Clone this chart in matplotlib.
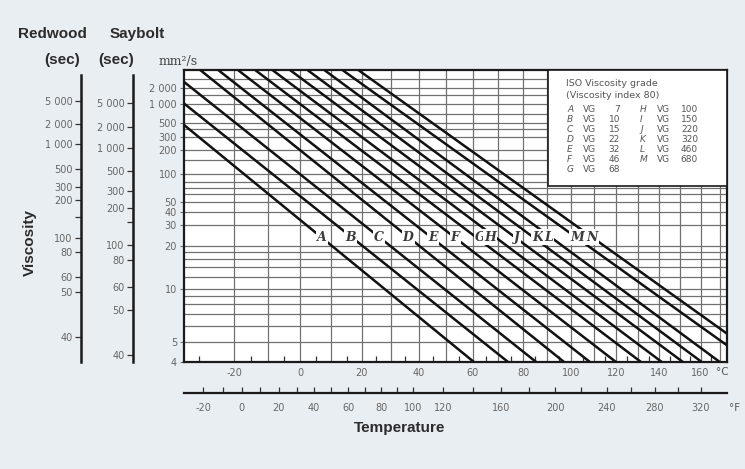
import numpy as np
import matplotlib
matplotlib.use("Agg")
import matplotlib.pyplot as plt
from matplotlib.patches import Rectangle

np.seterr(all="ignore")

# ISO VG lines: start and end points (deg C, mm2/s)
grades = ["A", "B", "C", "D", "E", "F", "G", "H", "J", "K", "L", "M", "N"]
t_start = [-34.2, -34.2, -34.2, -29.7, -24.6, -18.9, -13.8, -8.6, -3.2, 2.3, 7.7, 13.6, 18.9]
v_start = [460, 1040, 2630, 4620, 4620, 4620, 4620, 4620, 4620, 4620, 4620, 4620, 4620]
t_end = [60.5, 73.9, 85.3, 97.0, 108.2, 119.8, 131.3, 141.1, 151.3, 160.6, 169.7, 173.4, 173.4]
v_end = [4, 4, 4, 4, 4, 4, 4, 4, 4, 4, 4, 4.8, 5.5]
# letter labels along the 24 mm2/s level
label_t = [7.0, 16.2, 26.0, 36.2, 45.2, 53.4, 62.9, 66.8, 77.5, 86.1, 90.3, 102.6, 109.1]
label_v = 23.8

# legend table
legend_left = [("A", "7"), ("B", "10"), ("C", "15"), ("D", "22"), ("E", "32"), ("F", "46"), ("G", "68")]
legend_right = [("H", "100"), ("I", "150"), ("J", "220"), ("K", "320"), ("L", "460"), ("M", "680")]

# axes ticks
grid_t = list(range(-20, 171, 10))
minor_t = [-30] + list(range(-15, 170, 10))
label_c = list(range(-20, 161, 20))
grid_v = [5, 6, 7, 8, 9, 10, 12, 14, 16, 18, 20, 30, 40, 50, 60, 70, 80, 100,
          150, 200, 300, 400, 500, 700, 1000, 1500, 2000, 3000]
tick_v = [4, 5, 10, 20, 30, 40, 50, 100, 200, 300, 500, 1000, 2000]
tick_v_lbl = ["4", "5", "10", "20", "30", "40", "50", "100", "200", "300", "500", "1 000", "2 000"]
f_ticks = [-20, -10, 0, 10, 20, 30, 40, 50, 60, 70, 80, 90, 100, 120, 140, 160,
           180, 200, 220, 240, 260, 280, 300, 320]
f_labels = [-20, 0, 20, 40, 60, 80, 100, 120, 160, 200, 240, 280, 320]

# Redwood / Saybolt seconds and the mm2/s they sit at
redwood_s = [5000, 2000, 1000, 500, 300, 200, 150, 100, 80, 60, 50, 40]
redwood_v = [1150, 470, 240, 115, 71, 52, 36, 23.5, 18, 12, 9.5, 5.3]
saybolt_s = [5000, 2000, 1000, 500, 300, 200, 150, 100, 80, 60, 50, 40]
saybolt_v = [1080, 432, 216, 108, 65, 43, 32, 20.6, 15.7, 10.3, 7.4, 4.3]


def t_fwd(t):
    return np.log10(np.asarray(t, float) + 273.15)


def t_inv(u):
    return 10 ** np.asarray(u, float) - 273.15


def f_fwd(f):
    return t_fwd((np.asarray(f, float) - 32) * 5 / 9)


def f_inv(u):
    return t_inv(u) * 9 / 5 + 32


def v_fwd(v):
    return np.log10(np.log10(np.asarray(v, float) + 0.7))


def v_inv(u):
    return 10 ** (10 ** np.asarray(u, float)) - 0.7


W, H = 745, 469
BG = "#e9eef2"
GREY = "#707070"
TXT = "#2b2b2b"
narrow = ["Liberation Sans Narrow", "DejaVu Sans"]


def px(x, y):
    return x / W, 1 - y / H


fig = plt.figure(figsize=(W / 100, H / 100), dpi=100, facecolor=BG)

x0, y0, x1, y1 = 184, 70, 727, 362
ax = fig.add_axes([x0 / W, 1 - y1 / H, (x1 - x0) / W, (y1 - y0) / H])
ax.set_facecolor("white")
ax.set_xscale("function", functions=(t_fwd, t_inv))
ax.set_yscale("function", functions=(v_fwd, v_inv))
ax.set_xlim(-34.2, 173.4)
ax.set_ylim(4, 4620)

for t in grid_t:
    ax.axvline(t, color=GREY, lw=0.9, zorder=1)
for v in grid_v:
    ax.axhline(v, color=GREY, lw=0.9, zorder=1)

for i, g in enumerate(grades):
    ax.plot([t_start[i], t_end[i]], [v_start[i], v_end[i]], color="#111111",
            lw=1.8, solid_capstyle="butt", zorder=3)
    ax.text(label_t[i], label_v, g, ha="center", va="center", fontsize=9,
            style="italic", weight="bold", family="DejaVu Serif", color="#3a3a3a", zorder=4,
            bbox=dict(boxstyle="square,pad=0.1", fc="white", ec="none"))

ax.set_xticks(label_c)
ax.set_xticklabels([str(c) for c in label_c])
ax.set_xticks(minor_t, minor=True)
ax.tick_params(axis="x", which="major", length=0, pad=4, labelsize=7, labelcolor="#666666")
ax.tick_params(axis="x", which="minor", direction="in", length=4, width=0.9, color="#333333")
for lab in ax.get_xticklabels():
    lab.set_family(narrow)

ax.set_yticks(tick_v)
ax.set_yticklabels(tick_v_lbl)
ax.yaxis.set_minor_locator(plt.NullLocator())
ax.tick_params(axis="y", which="major", length=3, width=0.8, pad=2, labelsize=7,
               labelcolor="#666666", color=GREY)
for lab in ax.get_yticklabels():
    lab.set_family(narrow)

for s in ax.spines.values():
    s.set_linewidth(1.6)
    s.set_color("#1a1a1a")

# legend box
ax.add_patch(Rectangle(((548 - x0) / (x1 - x0), (y1 - 186) / (y1 - y0)),
                       (x1 - 548) / (x1 - x0), (186 - y0) / (y1 - y0),
                       transform=ax.transAxes, fc="white", ec="#1a1a1a", lw=1.2, zorder=5))
fig.text(*px(566, 83), "ISO Viscosity grade", fontsize=6.8, color="#555555", va="center", zorder=6)
fig.text(*px(566, 95), "(Viscosity index 80)", fontsize=6.8, color="#555555", va="center", zorder=6)
for r, (g, n) in enumerate(legend_left):
    yy = 109 + r * 10
    fig.text(*px(567, yy), g, fontsize=6.5, style="italic", color="#555555", va="center", zorder=6)
    fig.text(*px(583, yy), "VG", fontsize=6.5, color="#555555", va="center", zorder=6)
    fig.text(*px(620, yy), n, fontsize=6.5, color="#555555", va="center", ha="right", zorder=6)
for r, (g, n) in enumerate(legend_right):
    yy = 109 + r * 10
    fig.text(*px(640, yy), g, fontsize=6.5, style="italic", color="#555555", va="center", zorder=6)
    fig.text(*px(657, yy), "VG", fontsize=6.5, color="#555555", va="center", zorder=6)
    fig.text(*px(698, yy), n, fontsize=6.5, color="#555555", va="center", ha="right", zorder=6)

# Fahrenheit axis
fy = 393
axf = fig.add_axes([x0 / W, 1 - fy / H, (x1 - x0) / W, 0.0001])
axf.set_facecolor("none")
axf.set_xscale("function", functions=(f_fwd, f_inv))
axf.set_xlim(-29.56, 344.1)
axf.set_yticks([])
for k in ["top", "left", "right"]:
    axf.spines[k].set_visible(False)
axf.spines["bottom"].set_linewidth(1.6)
axf.spines["bottom"].set_color("#1a1a1a")
axf.set_xticks(f_ticks)
axf.set_xticklabels([str(f) if f in f_labels else "" for f in f_ticks])
axf.tick_params(axis="x", direction="in", length=4, width=0.9, pad=7, labelsize=7,
                labelcolor="#666666", color="#333333")
for lab in axf.get_xticklabels():
    lab.set_family(narrow)

fig.text(*px(722, 372), "\u00b0C", fontsize=7.5, color="#555555", va="center", ha="center")
fig.text(*px(735, 408), "\u00b0F", fontsize=7.5, color="#555555", va="center", ha="center")


# Redwood and Saybolt side scales
def side_scale(xpix, secs, vis):
    a = fig.add_axes([xpix / W, 1 - y1 / H, 0.0001, (y1 - y0) / H])
    a.set_facecolor("none")
    a.set_yscale("function", functions=(v_fwd, v_inv))
    a.set_ylim(4, 4620)
    a.set_xticks([])
    for k in ["top", "bottom", "right"]:
        a.spines[k].set_visible(False)
    a.spines["left"].set_linewidth(1.8)
    a.spines["left"].set_color("#1a1a1a")
    a.spines["left"].set_bounds(4, 3600)
    a.set_yticks(vis)
    a.set_yticklabels([("%d" % s).replace("000", " 000") if s >= 1000 else
                       ("" if s == 150 else str(s)) for s in secs])
    a.yaxis.set_minor_locator(plt.NullLocator())
    a.tick_params(axis="y", length=4, width=0.9, pad=2, labelsize=7,
                  labelcolor="#666666", color="#333333")
    for lab in a.get_yticklabels():
        lab.set_family(narrow)
    return a


side_scale(81, redwood_s, redwood_v)
side_scale(133, saybolt_s, saybolt_v)

hdr = dict(fontsize=11, weight="bold", color=TXT, ha="center", va="center", family="Liberation Sans")
fig.text(*px(52, 34), "Redwood", **hdr)
fig.text(*px(137, 34), "Saybolt", **hdr)
fig.text(*px(62, 60), "(sec)", **hdr)
fig.text(*px(116, 60), "(sec)", **hdr)
fig.text(*px(30, 243), "Viscosity", rotation=90, **hdr)
fig.text(*px(400, 428), "Temperature", **hdr)
fig.text(*px(178, 62), "mm\u00b2/s", fontsize=9, color="#444444", ha="center", va="center",
         family="DejaVu Serif")

fig.savefig("out.png", dpi=100, facecolor=BG)
